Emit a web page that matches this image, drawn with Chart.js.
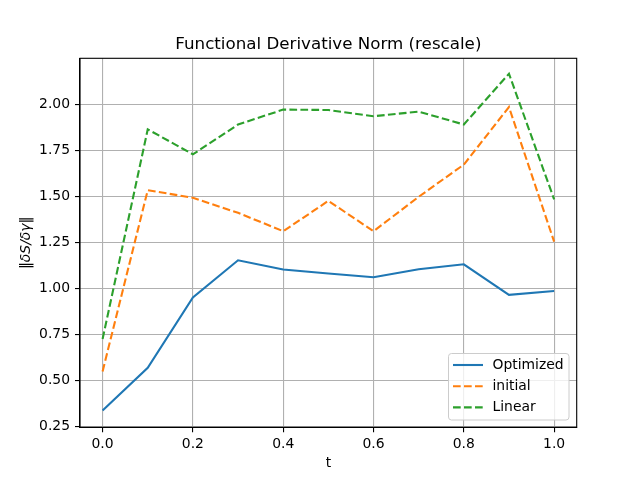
<!DOCTYPE html>
<html>
<head>
<meta charset="utf-8">
<script src="https://cdn.jsdelivr.net/npm/chart.js@4"></script>
<style>
html,body{margin:0;padding:0;background:#fff;}
#wrap{width:640px;height:480px;}
</style>
</head>
<body>
<div id="wrap"><canvas id="c" width="640" height="480"></canvas></div>
<script>
const tValues = [0.0, 0.1, 0.2, 0.3, 0.4, 0.5, 0.6, 0.7, 0.8, 0.9, 1.0];
const optimized = [0.335, 0.567, 0.95, 1.152, 1.102, 1.08, 1.06, 1.103, 1.13, 0.964, 0.985];
const initial = [0.548, 1.533, 1.492, 1.41, 1.31, 1.475, 1.31, 1.497, 1.672, 1.985, 1.253];
const linear = [0.724, 1.864, 1.728, 1.89, 1.971, 1.969, 1.935, 1.96, 1.89, 2.166, 1.483];
const xTicks = [0.0, 0.2, 0.4, 0.6, 0.8, 1.0];
const yTicks = [0.25, 0.50, 0.75, 1.00, 1.25, 1.50, 1.75, 2.00];
const seriesNames = ['Optimized', 'initial', 'Linear'];
const titleText = 'Functional Derivative Norm (rescale)';
const xLabel = 't';
const yLabel = '\u2016\u03B4S/\u03B4\u03B3\u2016';

const colors = ['#1f77b4', '#ff7f0e', '#2ca02c'];
const dashes = [[], [7.7, 3.3], [7.7, 3.3]];
const FONT = "'DejaVu Sans', sans-serif";

Chart.defaults.font.family = FONT;
Chart.defaults.font.size = 13.9;
Chart.defaults.color = '#000';

function pts(arr){ return tValues.map((t,i)=>({x:t, y:arr[i]})); }

const decor = {
  id: 'decor',
  afterDatasetsDraw(chart){
    const ctx = chart.ctx, a = chart.chartArea;
    ctx.save();
    // frame
    ctx.strokeStyle = '#000';
    ctx.lineWidth = 1.1;
    ctx.strokeRect(a.left, a.top, a.right - a.left, a.bottom - a.top);
    // title
    ctx.fillStyle = '#000';
    ctx.font = '16.7px ' + FONT;
    ctx.textAlign = 'center';
    ctx.textBaseline = 'alphabetic';
    ctx.fillText(titleText, (a.left + a.right)/2, 49);
    // x label
    ctx.font = '13.9px ' + FONT;
    ctx.textBaseline = 'alphabetic';
    ctx.fillText(xLabel, (a.left + a.right)/2, 467);
    // y label
    ctx.save();
    ctx.translate(30, (a.top + a.bottom)/2);
    ctx.rotate(-Math.PI/2);
    ctx.font = 'italic 13.9px ' + FONT;
    ctx.textAlign = 'center';
    ctx.textBaseline = 'alphabetic';
    ctx.fillText(yLabel, 0, 0);
    ctx.restore();
    // legend
    const lx = 448.5, ly = 353.5, lw = 120.5, lh = 66.5, r = 3;
    ctx.beginPath();
    ctx.moveTo(lx + r, ly);
    ctx.arcTo(lx + lw, ly, lx + lw, ly + lh, r);
    ctx.arcTo(lx + lw, ly + lh, lx, ly + lh, r);
    ctx.arcTo(lx, ly + lh, lx, ly, r);
    ctx.arcTo(lx, ly, lx + lw, ly, r);
    ctx.closePath();
    ctx.fillStyle = 'rgba(255,255,255,0.8)';
    ctx.fill();
    ctx.strokeStyle = '#cccccc';
    ctx.lineWidth = 1;
    ctx.stroke();
    const rows = [365, 386.2, 407.4];
    seriesNames.forEach((n,i)=>{
      ctx.beginPath();
      ctx.strokeStyle = colors[i];
      ctx.lineWidth = 2.1;
      ctx.setLineDash(dashes[i]);
      ctx.moveTo(453, rows[i]);
      ctx.lineTo(483, rows[i]);
      ctx.stroke();
      ctx.setLineDash([]);
      ctx.fillStyle = '#000';
      ctx.font = '13.9px ' + FONT;
      ctx.textAlign = 'left';
      ctx.textBaseline = 'middle';
      ctx.fillText(n, 492.5, rows[i]);
    });
    ctx.restore();
  }
};

new Chart(document.getElementById('c'), {
  type: 'line',
  data: {
    datasets: [optimized, initial, linear].map((arr,i)=>({
      label: seriesNames[i],
      data: pts(arr),
      borderColor: colors[i],
      backgroundColor: colors[i],
      borderWidth: 2.1,
      borderDash: dashes[i],
      pointRadius: 0,
      tension: 0,
      fill: false
    }))
  },
  options: {
    responsive: false,
    devicePixelRatio: 1,
    animation: false,
    layout: { padding: { left: 0, top: 58.3, right: 63.3, bottom: 0 } },
    plugins: { legend: { display: false }, title: { display: false }, tooltip: { enabled: false } },
    scales: {
      x: {
        type: 'linear',
        min: -0.05,
        max: 1.05,
        afterBuildTicks(s){ s.ticks = xTicks.map(v=>({value:v})); },
        afterFit(s){ s.height = 480 - 427.3; },
        ticks: { callback: v => v.toFixed(1), padding: 4, maxRotation: 0, autoSkip: false },
        grid: { color: '#b0b0b0', lineWidth: 1.1, tickColor: '#000', tickLength: 5, drawTicks: true },
        border: { display: true, color: '#000', width: 1.1 }
      },
      y: {
        type: 'linear',
        min: 0.244,
        max: 2.25,
        afterBuildTicks(s){ s.ticks = yTicks.map(v=>({value:v})); },
        afterFit(s){ s.width = 80; },
        ticks: { callback: v => v.toFixed(2), padding: 5, autoSkip: false },
        grid: { color: '#b0b0b0', lineWidth: 1.1, tickColor: '#000', tickLength: 5, drawTicks: true },
        border: { display: true, color: '#000', width: 1.1 }
      }
    }
  },
  plugins: [decor]
});
</script>
</body>
</html>
